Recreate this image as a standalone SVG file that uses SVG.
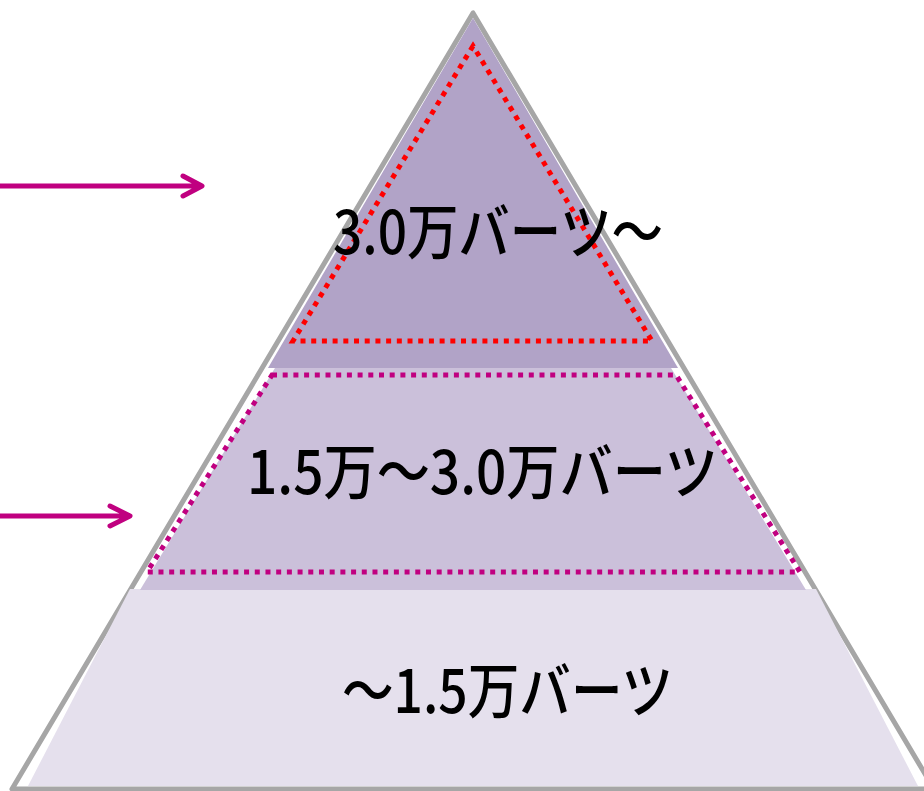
<svg xmlns="http://www.w3.org/2000/svg" width="924" height="791" viewBox="0 0 924 791">
<style>
.lbl{font-family:"Noto Sans CJK JP","Noto Sans",sans-serif;font-size:60px;font-weight:500;fill:#000;}
.arrow{stroke:#c00080;stroke-width:5;fill:none;stroke-linecap:round;stroke-linejoin:round;}
.dotr{stroke:#ff0000;stroke-width:5;fill:none;stroke-dasharray:5 5.7;}
.dotm{stroke:#c00080;stroke-width:5;fill:none;stroke-dasharray:5 5.7;}
</style>
<rect width="924" height="791" fill="#ffffff"/>
<g id="outline">
<polygon points="473,13 12,789 934,789" fill="#ffffff" stroke="#a6a6a6" stroke-width="5" stroke-linejoin="round"/>
</g>
<g id="tier-bottom">
<polygon points="130,589 816,589 918,786 28,786" fill="#e5e0ed"/>
<text class="lbl" x="342" y="713" textLength="331" lengthAdjust="spacingAndGlyphs">～1.5万バーツ</text>
</g>
<g id="tier-middle">
<polygon points="278,363 668,363 806,590 140,590" fill="#cbc0da"/>
<polygon class="dotm" points="272,375 676,375 800,572 147,572"/>
<text class="lbl" x="247" y="494" textLength="471" lengthAdjust="spacingAndGlyphs">1.5万～3.0万バーツ</text>
</g>
<g id="tier-top">
<polygon points="473,18 268,368 678,368" fill="#b1a3c7"/>
<polygon class="dotr" points="473,46 293,341 652,341"/>
<text class="lbl" x="333" y="254" textLength="330" lengthAdjust="spacingAndGlyphs">3.0万バーツ～</text>
</g>
<g id="connectors">
<path class="arrow" d="M0,186 H200 M183,176 L202,186 L183,196"/>
<path class="arrow" d="M0,516 H128 M110,506 L130,516 L110,526"/>
</g>
</svg>
